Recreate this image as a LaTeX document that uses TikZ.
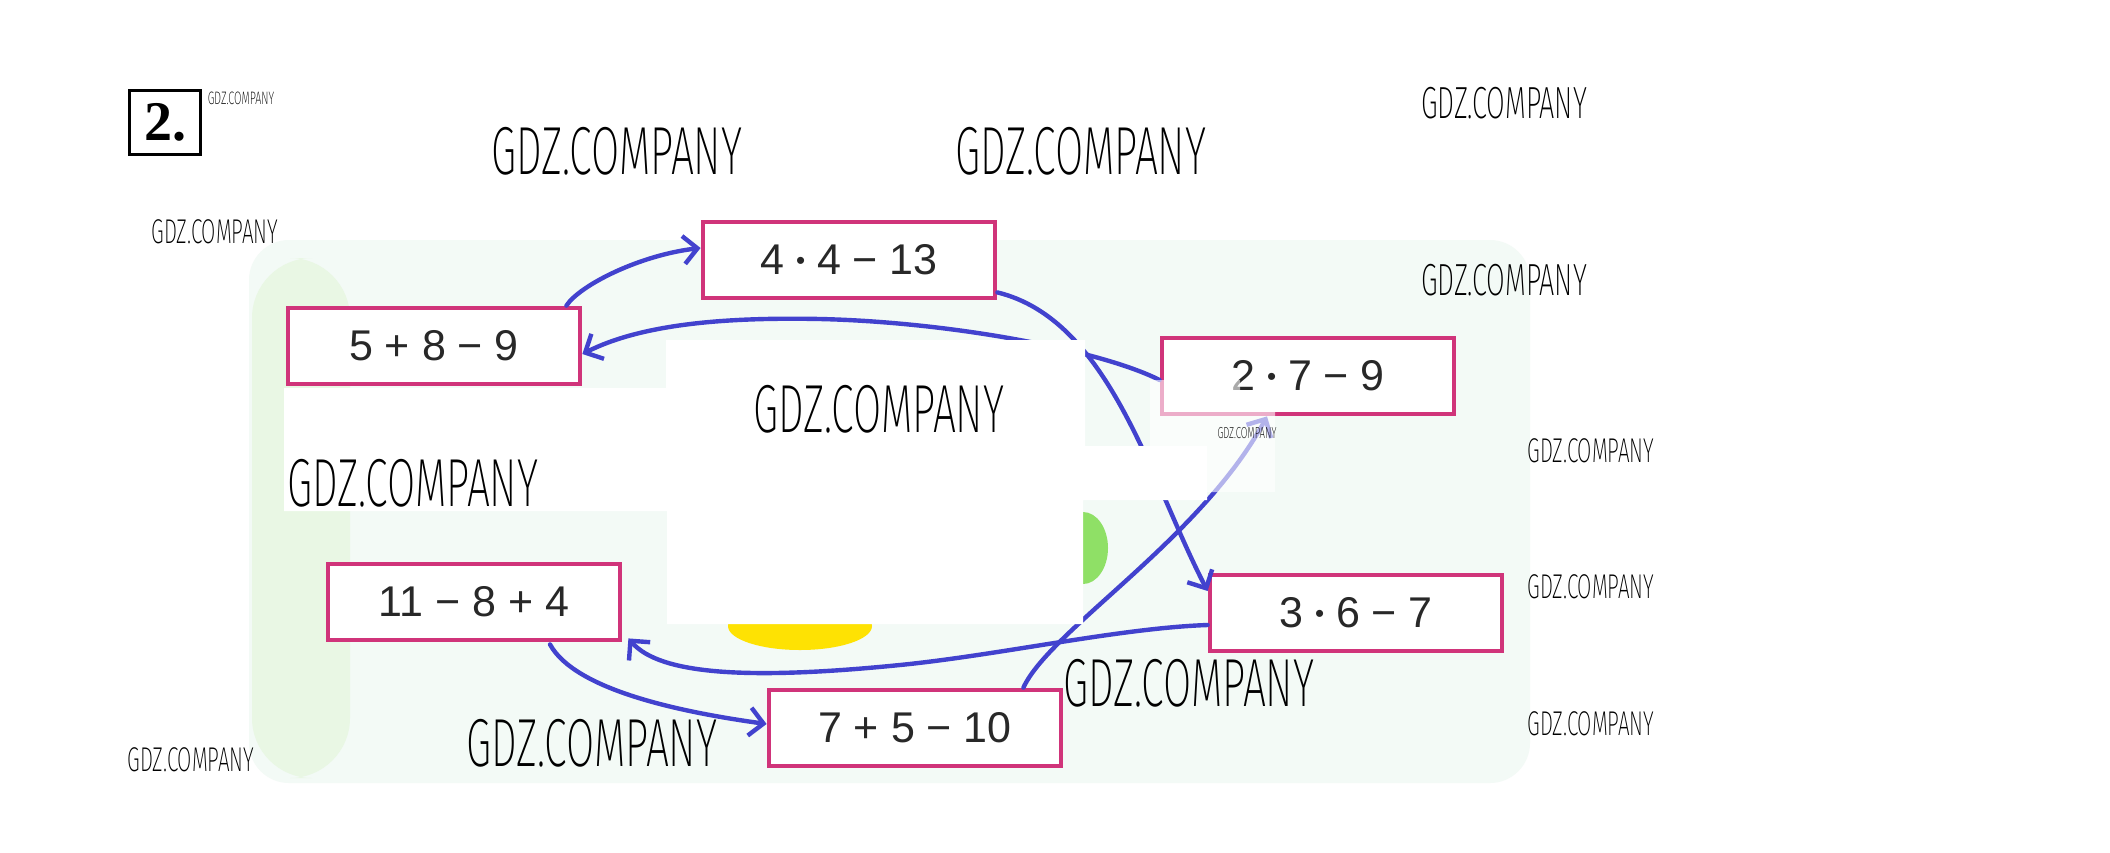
\documentclass[tikz,border=0pt]{standalone}
\usepackage{fontspec}
\setmainfont{Liberation Sans}
\newfontfamily\gdzfont[FakeStretch=0.6]{Fira Sans ExtraLight}
\newfontfamily\numfont{Liberation Serif}
\usetikzlibrary{arrows.meta,calc}

\definecolor{boxpink}{RGB}{208,52,122}
\definecolor{penblue}{RGB}{66,66,206}
\definecolor{inkgrey}{RGB}{40,40,40}
\definecolor{bgmint}{RGB}{243,250,246}
\definecolor{leafgreen}{RGB}{233,247,228}

\newcommand{\md}{\raisebox{2.6pt}{\fontsize{13pt}{13pt}\selectfont •}}

\begin{document}
\begin{tikzpicture}[x=0.5pt,y=0.5pt,yscale=-1,xscale=1,
	expr/.style={draw=boxpink, line width=2.4pt, fill=white, minimum width=146pt, minimum height=38pt, inner sep=0pt, text=inkgrey, font=\fontsize{21.5pt}{21.5pt}\selectfont},
	pen/.style={draw=penblue, line width=2.2pt, line cap=round, line join=round, -{Straight Barb[length=7pt,width=14pt]}},
	wmL/.style={inner sep=0pt, font=\gdzfont\fontsize{34pt}{34pt}\selectfont},
	wmM/.style={inner sep=0pt, font=\gdzfont\fontsize{22.5pt}{22.5pt}\selectfont},
	wmS/.style={inner sep=0pt, font=\gdzfont\fontsize{17.2pt}{17.2pt}\selectfont},
	wmT/.style={inner sep=0pt, font=\gdzfont\fontsize{9pt}{9pt}\selectfont}]
	\useasboundingbox [fill=white] (0,0) rectangle (2110,852);

	%Shape: Rectangle [page background]
	\fill [bgmint, rounded corners=20pt] (249,240) rectangle (1530,783) ;
	\fill [leafgreen, rounded corners=30pt] (252,258) rectangle (350,778) ;
	%Shape: Ellipse [fruit]
	\fill [yellow!85!orange] (800,626) ellipse [x radius=72, y radius=24] ;
	\fill [green!55!lime!80!black!60] (1083,548) ellipse [x radius=25, y radius=36] ;

	% Text Node
	\draw (165,122) node [draw, line width=1.5pt, minimum width=35.5pt, minimum height=32pt, inner sep=0pt, font=\numfont\bfseries\fontsize{28pt}{28pt}\selectfont] (num) {2.};

	% Text Node
	\draw (434,346) node [expr] (e589) {5 + 8 − 9};
	% Text Node
	\draw (849,260) node [expr] (e4413) {4 \md\ 4 − 13};
	% Text Node
	\draw (1308,376) node [expr] (e279) {2 \md\ 7 − 9};
	% Text Node
	\draw (474,602) node [expr] (e1184) {11 − 8 + 4};
	% Text Node
	\draw (1356,613) node [expr] (e367) {3 \md\ 6 − 7};
	% Text Node
	\draw (915,728) node [expr] (e7510) {7 + 5 − 10};

	% Connection
	\draw [pen] ($(e589.north east)+(-16,0)$) .. controls (580,285) and (640,255) .. ($(e4413.west)+(0,-12)$) ;
	% Connection
	\draw [pen] ($(e4413.south east)+(0,-8)$) .. controls (1110,320) and (1150,480) .. ($(e367.west)+(0,-22)$) ;
	% Connection
	\draw [pen] ($(e367.west)+(0,12)$) .. controls (1120,628) and (1000,655) .. (900,665) .. controls (750,680) and (660,675) .. ($(e1184.south east)+(6,-4)$) ;
	% Connection
	\draw [pen] ($(e1184.south)+(76,2)$) .. controls (575,690) and (680,712) .. ($(e7510.west)+(0,-4)$) ;
	% Connection
	\draw [pen] ($(e7510.north east)+(-40,0)$) .. controls (1050,630) and (1200,540) .. ($(e279.south)+(-41,0)$) ;
	% Connection
	\draw [pen] ($(e279.west)+(0,4)$) .. controls (1100,350) and (950,322) .. (820,319) .. controls (720,317) and (640,325) .. ($(e589.east)+(0,8)$) ;

	%Shape: Polygon [cover]
	\fill [white] (284,388) -- (666,388) -- (666,340) -- (1085,340) -- (1085,446) -- (1207,446) -- (1207,500) -- (1083,500) -- (1083,624) -- (667,624) -- (667,511) -- (284,511) -- cycle ;
	\fill [white, opacity=0.6] (1150,380) -- (1240,380) -- (1240,410) -- (1275,410) -- (1275,492) -- (1150,492) -- cycle ;

	% Text Node
	\draw (241,98) node [wmT] (wm1) {GDZ.COMPANY};
	% Text Node
	\draw (617,151) node [wmL] (wm2) {GDZ.COMPANY};
	% Text Node
	\draw (1081,151) node [wmL] (wm3) {GDZ.COMPANY};
	% Text Node
	\draw (1504,103) node [wmM] (wm4) {GDZ.COMPANY};
	% Text Node
	\draw (215,232) node [wmS] (wm5) {GDZ.COMPANY};
	% Text Node
	\draw (1504,280) node [wmM] (wm6) {GDZ.COMPANY};
	% Text Node
	\draw (879,409) node [wmL] (wm7) {GDZ.COMPANY};
	% Text Node
	\draw (1247,433) node [wmT, font=\gdzfont\fontsize{8pt}{8pt}\selectfont] (wm8) {GDZ.COMPANY};
	% Text Node
	\draw (1591,451) node [wmS] (wm9) {GDZ.COMPANY};
	% Text Node
	\draw (413,483) node [wmL] (wm10) {GDZ.COMPANY};
	% Text Node
	\draw (1591,587) node [wmS] (wm11) {GDZ.COMPANY};
	% Text Node
	\draw (1189,683) node [wmL] (wm12) {GDZ.COMPANY};
	% Text Node
	\draw (592,743) node [wmL] (wm13) {GDZ.COMPANY};
	% Text Node
	\draw (1591,724) node [wmS] (wm14) {GDZ.COMPANY};
	% Text Node
	\draw (191,760) node [wmS] (wm15) {GDZ.COMPANY};

\end{tikzpicture}
\end{document}
